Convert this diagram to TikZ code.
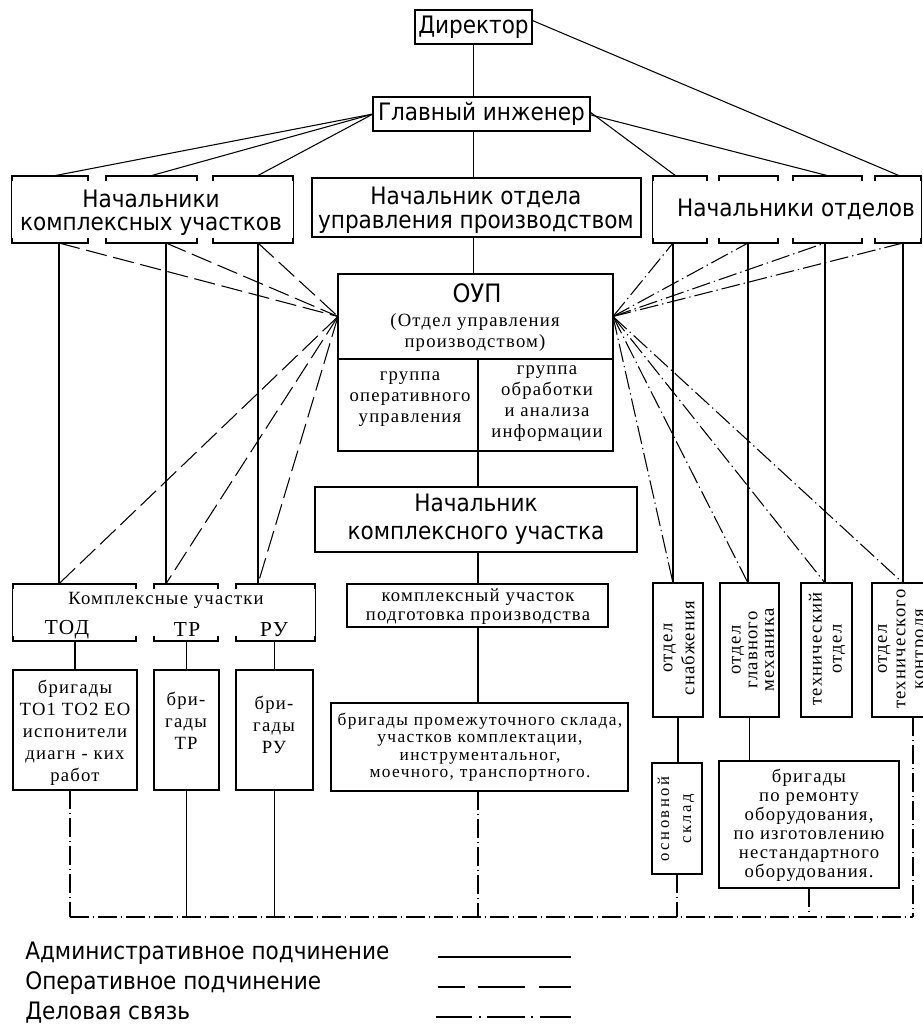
\documentclass[tikz,border=0pt]{standalone}
\usepackage{fontspec}
\setmainfont{Liberation Serif}
\newfontfamily\hsans{DejaVu Sans Condensed}
\newfontfamily\hser{Liberation Serif}[LetterSpace=6.5]
\newfontfamily\hsern{Liberation Serif}[LetterSpace=8]
\newfontfamily\hserw{Liberation Serif}[LetterSpace=15]
\usetikzlibrary{fit}
\tikzset{
  adm/.style={line width=0.8pt},
  oper/.style={line width=0.8pt, dash pattern=on 16pt off 5pt},
  dela/.style={line width=0.8pt, dash pattern=on 14pt off 3pt on 1pt off 3pt},
  box/.style={draw, line width=0.8pt, inner sep=0pt, outer sep=0pt},
  sanst/.style={font=\hsans\fontsize{18}{17.5}\selectfont, align=center, inner sep=0pt},
  serst/.style={font=\hser\fontsize{14}{15.75}\selectfont, align=center, inner sep=0pt},
}
\newcommand\opseg[4]{\draw[adm] (#1,#3+5) -- (#1,#3) -- (#2,#3) -- (#2,#3+5) (#1,#4-5) -- (#1,#4) -- (#2,#4) -- (#2,#4-5);}
\begin{document}
\begin{tikzpicture}[x=0.75pt,y=-0.75pt]
\useasboundingbox (0,0) rectangle (923,1025);
\fill[white] (0,0) rectangle (923,1025);
\clip (0,0) rectangle (923,1025);

% ---------- top level
\node[box, fit={(415,10) (532,44)}] (dir) {};
\node[sanst] (dirt) at (dir) {Директор};
\node[box, fit={(373,97) (590,131)}] (ce) {};
\node[sanst] (cet) at (ce) {Главный инженер};

% left heads (gapped box)
\node[inner sep=0pt, fit={(12,176) (293,243)}] (lh) {};
\opseg{12}{88}{176}{243}
\opseg{106}{197}{176}{243}
\opseg{213}{293}{176}{243}
\draw[adm] (lh.north west) -- (lh.south west) (lh.north east) -- (lh.south east);
\node[sanst] (lht) at (151,213) {Начальники\\комплексных участков};

\node[box, fit={(312,178) (641,237)}] (mh) {};
\node[sanst, font=\hsans\fontsize{18}{18}\selectfont] (mht) at (476,210) {Начальник отдела\\управления производством};

% right heads (gapped box)
\node[inner sep=0pt, fit={(653,176) (921,243)}] (rh) {};
\opseg{653}{707}{176}{243}
\opseg{719}{778}{176}{243}
\opseg{793}{862}{176}{243}
\opseg{875}{921}{176}{243}
\draw[adm] (rh.north west) -- (rh.south west) (rh.north east) -- (rh.south east);
\node[sanst] (rht) at (796,209) {Начальники отделов};

% ---------- OUP
\node[box, fit={(338,274) (613,359)}] (oupt) {};
\node[box, fit={(338,359) (478,451)}] (oupl) {};
\node[box, fit={(478,359) (613,451)}] (oupr) {};
\node[sanst, font=\hsans\fontsize{19}{19}\selectfont] (ouptitle) at (477,293) {ОУП};
\node[serst] (oupsub) at (475,333) {(Отдел управления\\производством)};
\node[serst] (ouplt) at (410,399) {группа\\оперативного\\управления};
\node[serst] (ouprt) at (547,404) {группа\\обработки\\и анализа\\информации};

% ---------- centre column
\node[box, fit={(315,487) (637,552)}] (nk) {};
\node[sanst, font=\hsans\fontsize{18}{21}\selectfont] (nkt) at (476,519) {Начальник\\комплексного участка};
\node[box, fit={(347,584) (608,627)}] (kp) {};
\node[serst, font=\hser\fontsize{14}{14.25}\selectfont] (kpt) at (478,607) {комплексный участок\\подготовка производства};
\node[box, fit={(331,703) (628,791)}] (bp) {};
\node[serst, font=\hsern\fontsize{13}{13.1}\selectfont] (bpt) at (480,747) {бригады промежуточного склада,\\участков комплектации,\\инструментальног,\\моечного, транспортного.};

% ---------- complex sections (gapped box)
\node[inner sep=0pt, fit={(13,584) (315,641)}] (ku) {};
\opseg{13}{136}{584}{641}
\opseg{154}{218}{584}{641}
\opseg{236}{315}{584}{641}
\draw[adm] (ku.north west) -- (ku.south west) (ku.north east) -- (ku.south east);
\node[serst] (kut) at (166,600) {Комплексные участки};
\node[serst, font=\hser\fontsize{16}{16}\selectfont] (tod) at (67,630) {ТОД};
\node[serst, font=\hser\fontsize{16}{16}\selectfont] (tr) at (187,630) {ТР};
\node[serst, font=\hser\fontsize{16}{16}\selectfont] (ru) at (274,630) {РУ};

\node[box, fit={(13,670) (137,790)}] (b1) {};
\node[serst, font=\hser\fontsize{14}{16.5}\selectfont] (b1t) at (75,733) {бригады\\ТО1 ТО2 ЕО\\испонители\\диагн - ких\\работ};
\node[box, fit={(154,670) (219,790)}] (b2) {};
\node[serst, font=\hser\fontsize{14}{16.5}\selectfont] (b2t) at (186,721) {бри-\\гады\\ТР};
\node[box, fit={(236,670) (313,790)}] (b3) {};
\node[serst, font=\hser\fontsize{14}{16.5}\selectfont] (b3t) at (274,725) {бри-\\гады\\РУ};

% ---------- departments (vertical)
\node[box, fit={(653,583) (703,717)}] (v1) {};
\node[box, fit={(720,583) (779,717)}] (v2) {};
\node[box, fit={(801,583) (852,717)}] (v3) {};
\node[box, fit={(872,583) (924,717)}] (v4) {};
\node[serst, rotate=90, font=\hser\fontsize{14}{16.5}\selectfont] (v1t) at (679,648) {отдел\\снабжения};
\node[serst, rotate=90, font=\hser\fontsize{14}{12.5}\selectfont] (v2t) at (753,650) {отдел\\главного\\механика};
\node[serst, rotate=90, font=\hser\fontsize{14}{15}\selectfont] (v3t) at (827,649) {технический\\отдел};
\node[serst, rotate=90, font=\hser\fontsize{14}{14}\selectfont] (v4t) at (903,649) {отдел\\технического\\контроля};

\node[box, fit={(652,763) (702,874)}] (os) {};
\node[serst, rotate=90, font=\hserw\fontsize{12.5}{16.5}\selectfont] (ost) at (676,819) {основной\\склад};
\node[box, fit={(719,761) (899,888)}] (br) {};
\node[serst, font=\hser\fontsize{14}{14.25}\selectfont] (brt) at (809,825) {бригады\\по ремонту\\оборудования,\\по изготовлению\\нестандартного\\оборудования.};

% ---------- coordinates
\coordinate (lt1) at (53,176);  \coordinate (lt2) at (150,176); \coordinate (lt3) at (257,176);
\coordinate (lb1) at (59,243);  \coordinate (lb2) at (166,243); \coordinate (lb3) at (258,243);
\coordinate (rt1) at (676,176); \coordinate (rt2) at (829,176); \coordinate (rt3) at (900,176);
\coordinate (rb1) at (673,243); \coordinate (rb2) at (748,243); \coordinate (rb3) at (825,243); \coordinate (rb4) at (903,243);
\coordinate (bl) at (70,917);   \coordinate (brr) at (913,917);
\coordinate (cx) at (478,0);

% ---------- administrative (solid)
\draw[adm] (dir.south) -- (dir.south |- ce.north);
\draw[adm] (ce.south -| dir.south) -- (mh.north -| dir.south);
\draw[adm] (mh.south -| dir.south) -- (oupt.north -| dir.south);
\draw[adm] (ce.west) -- (lt1);
\draw[adm] (ce.west) -- (lt2);
\draw[adm] (ce.west) -- (lt3);
\draw[adm] ([yshift=1.5pt]ce.east) -- (rt1);
\draw[adm] ([yshift=-0.5pt]ce.east) -- (rt2);
\draw[adm] ([yshift=5pt]dir.east) -- (rt3);
\draw[adm] (lb1) -- (lb1 |- ku.north);
\draw[adm] (lb2) -- (lb2 |- ku.north);
\draw[adm] (lb3) -- (lb3 |- ku.north);
\draw[adm] (rb1) -- (rb1 |- v1.north);
\draw[adm] (rb2) -- (rb2 |- v2.north);
\draw[adm] (rb3) -- (rb3 |- v3.north);
\draw[adm] (rb4) -- (rb4 |- v4.north);
\draw[adm] (oupl.south east) -- (oupl.south east |- nk.north);
\draw[adm] (nk.south -| cx) -- (kp.north -| cx);
\draw[adm] (kp.south -| cx) -- (bp.north -| cx);
\draw[adm] (b1.north |- ku.south) -- (b1.north);
\draw[adm] (b2.north |- ku.south) -- (b2.north);
\draw[adm] (b3.north |- ku.south) -- (b3.north);
\draw[adm] (v1.south) -- (v1.south |- os.north);
\draw[adm] (v2.south) -- (v2.south |- br.north);
\draw[adm] (b2.south) -- (b2.south |- bl);
\draw[adm] (b3.south) -- (b3.south |- bl);

% ---------- operative (dashed)
\draw[oper] (lb1) -- (oupt.west);
\draw[oper] (lb2) -- (oupt.west);
\draw[oper] (lb3) -- (oupt.west);
\draw[oper] (oupt.west) -- (lb1 |- ku.north);
\draw[oper] (oupt.west) -- (lb2 |- ku.north);
\draw[oper] (oupt.west) -- (lb3 |- ku.north);

% ---------- business links (dash-dot)
\draw[dela] (oupt.east) -- (rb1);
\draw[dela] (oupt.east) -- (rb2);
\draw[dela] (oupt.east) -- (rb3);
\draw[dela] (oupt.east) -- (rb4);
\draw[dela] (oupt.east) -- (rb1 |- v1.north);
\draw[dela] (oupt.east) -- (rb2 |- v2.north);
\draw[dela] (oupt.east) -- (rb3 |- v3.north);
\draw[dela] (oupt.east) -- (rb4 |- v4.north);
\draw[dela] (bl |- b1.south) -- (bl);
\draw[dela] (bp.south -| cx) -- (bl -| cx);
\draw[dela] (os.south) -- (os.south |- bl);
\draw[dela] (br.south) -- (br.south |- bl);
\draw[dela] (brr |- v4.south) -- (brr);
\draw[dela] (bl) -- (brr);

% ---------- legend
\node[sanst, anchor=west] (lg1) at (25,953) {Административное подчинение};
\node[sanst, anchor=west] (lg2) at (25,983) {Оперативное подчинение};
\node[sanst, anchor=west] (lg3) at (25,1013) {Деловая связь};
\coordinate (l1a) at (438,957); \coordinate (l1b) at (571,957);
\coordinate (l2a) at (438,987); \coordinate (l2b) at (571,987);
\coordinate (l3a) at (436,1017); \coordinate (l3b) at (571,1017);
\draw[adm] (l1a) -- (l1b);
\draw[line width=0.8pt, dash pattern=on 20pt off 10pt on 35pt off 11pt on 24pt] (l2a) -- (l2b);
\draw[line width=0.8pt, dash pattern=on 27pt off 5pt on 1.5pt off 5pt on 28pt off 5pt on 1.5pt off 5pt on 30pt] (l3a) -- (l3b);
\end{tikzpicture}
\end{document}
